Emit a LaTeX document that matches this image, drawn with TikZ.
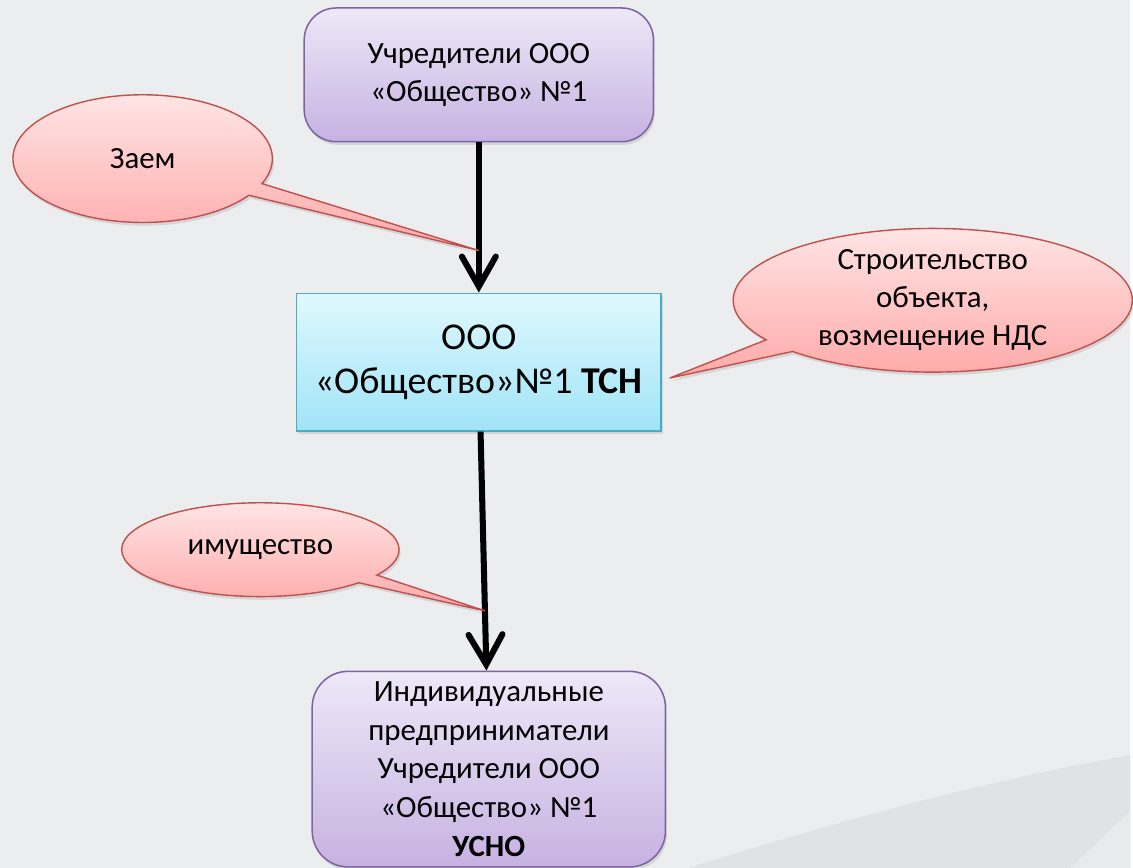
\documentclass[tikz,border=0pt]{standalone}
\usepackage{fontspec}
\setmainfont{Carlito}
\usepackage{xcolor}
\usetikzlibrary{arrows.meta,shapes.callouts,shadows}
\definecolor{bgcol}{HTML}{ECEDEF}
\definecolor{bandcol}{HTML}{E1E2E4}
\definecolor{bandlight}{HTML}{E9EAEC}
\definecolor{lilactop}{HTML}{EEE8F8}
\definecolor{lilacbot}{HTML}{C6B2E1}
\definecolor{lilacline}{HTML}{8064A2}
\definecolor{cyantop}{HTML}{E0F8FD}
\definecolor{cyanbot}{HTML}{A0E4F7}
\definecolor{cyanline}{HTML}{4BACC6}
\definecolor{pinktop}{HTML}{FFE4E4}
\definecolor{pinkbot}{HTML}{FFA8A8}
\definecolor{pinkline}{HTML}{C0504D}
\tikzset{font={\fontsize{22pt}{27pt}\selectfont}}

\begin{document}
\begin{tikzpicture}[x=0.025cm,y=-0.025cm,
soft shadow/.style={drop shadow={opacity=0.22,shadow xshift=0.04cm,shadow yshift=-0.08cm}},
purple box/.style={draw=lilacline,line width=1.1pt,rounded corners=0.8cm,top color=lilactop,bottom color=lilacbot,align=center,soft shadow},
cyan box/.style={draw=cyanline,line width=1pt,top color=cyantop,bottom color=cyanbot,align=center,soft shadow,font={\fontsize{27pt}{31pt}\selectfont}},
talk bubble/.style={ellipse callout,draw=pinkline,line width=1pt,top color=pinktop,bottom color=pinkbot,align=center,inner sep=0pt,callout pointer arc=12,soft shadow},
flow/.style={line width=4.3pt,-{Straight Barb[length=0.75cm,width=0.85cm,line cap=round]}}
]
% background
\fill[bgcol] (0,0) rectangle (1133,870);
\fill[bandcol] (690,870) .. controls (850,820) and (1000,780) .. (1133,757) -- (1133,870) -- cycle;
\fill[bandlight] (1073,870) -- (1133,813) -- (1133,870) -- cycle;

\node[purple box,minimum width=8.75cm,minimum height=3.35cm] (found) at (480,75) {Учредители ООО\\«Общество» №1};
\node[cyan box,minimum width=9.125cm,minimum height=3.45cm] (tsn) at (480,363) {ООО\\«Общество»№1 \textbf{ТСН}};
\node[purple box,rounded corners=0.9cm,minimum width=8.85cm,minimum height=4.9cm,font={\fontsize{22pt}{27.6pt}\selectfont}] (usno) at (490,771) {Индивидуальные\\предприниматели\\Учредители ООО\\«Общество» №1\\\textbf{УСНО}};

\draw[flow] (found) -- coordinate[pos=0.72] (loan tip) (tsn);
\draw[flow] (tsn) -- coordinate[pos=0.75] (asset tip) (usno);
\coordinate (build tip) at ([xshift=0.2cm,yshift=-0.4cm]tsn.east);

\node[talk bubble,minimum width=6.5cm,minimum height=3.2cm,callout absolute pointer={(loan tip)}] (loan) at (143,159) {Заем};
\node[talk bubble,minimum width=10cm,minimum height=3.6cm,callout absolute pointer={(build tip)}] (build) at (935,301) {Строительство\\объекта,\\возмещение НДС};
\node[talk bubble,minimum width=6.95cm,minimum height=2.35cm,callout absolute pointer={(asset tip)}] (asset) at (261,551) {имущество};
\end{tikzpicture}
\end{document}
